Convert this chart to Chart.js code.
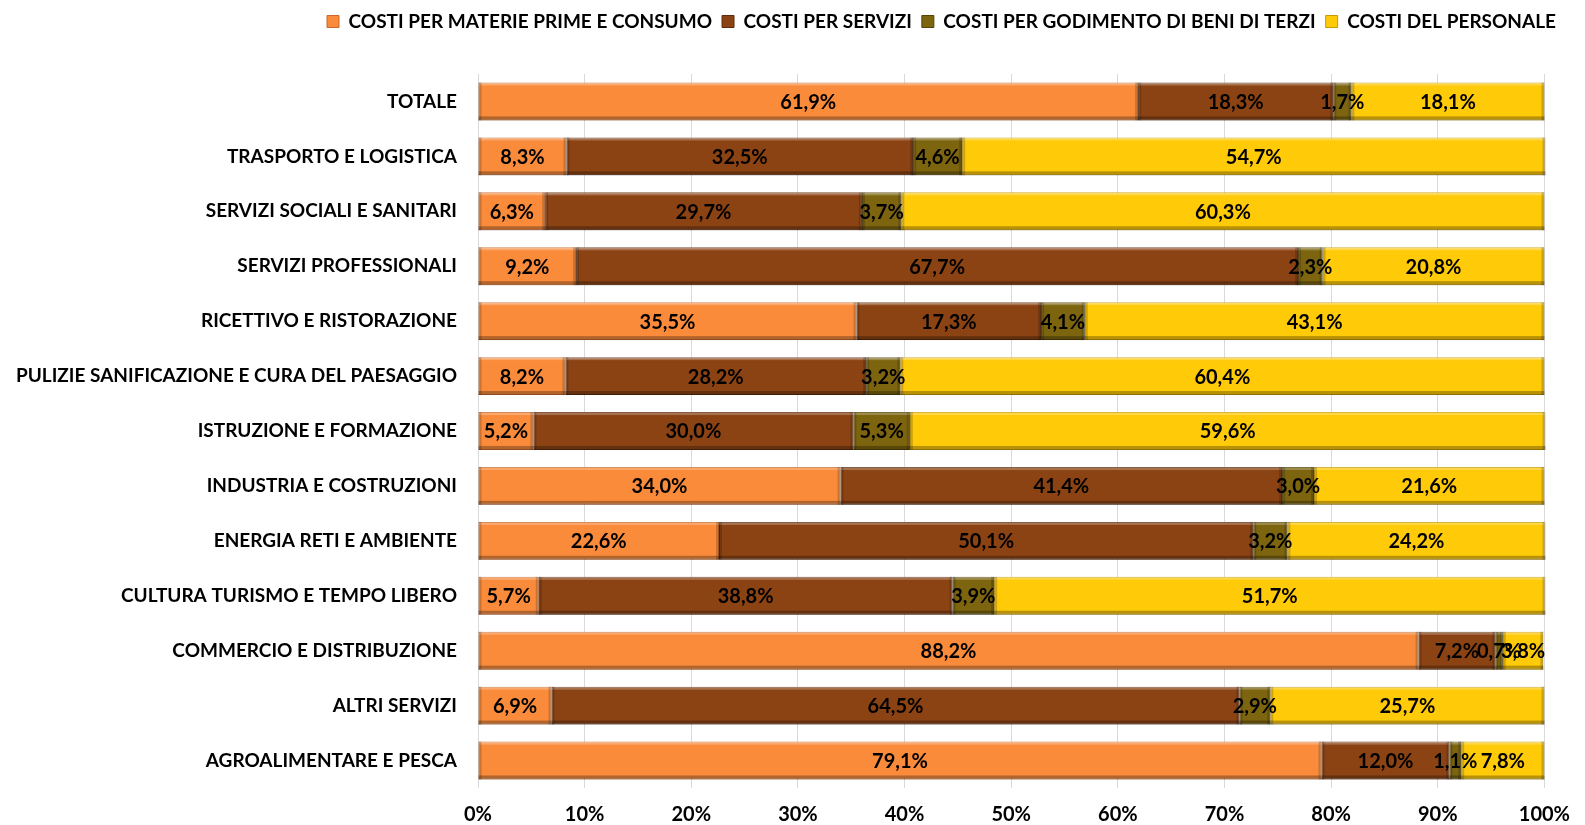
<!DOCTYPE html>
<html>
<head>
<meta charset="utf-8">
<script src="https://cdn.jsdelivr.net/npm/chart.js@4/dist/chart.umd.min.js"></script>
<style>
  html, body { margin: 0; padding: 0; background: #fff; overflow: hidden; }
  #wrap { width: 1585px; height: 825px; position: relative; }
  canvas { display: block; }
</style>
</head>
<body>
<div id="wrap"><canvas id="chart"></canvas></div>
<script>
const categories = [
  'TOTALE',
  'TRASPORTO E LOGISTICA',
  'SERVIZI SOCIALI E SANITARI',
  'SERVIZI PROFESSIONALI',
  'RICETTIVO E RISTORAZIONE',
  'PULIZIE SANIFICAZIONE E CURA DEL PAESAGGIO',
  'ISTRUZIONE E FORMAZIONE',
  'INDUSTRIA E COSTRUZIONI',
  'ENERGIA RETI E AMBIENTE',
  'CULTURA TURISMO E TEMPO LIBERO',
  'COMMERCIO E DISTRIBUZIONE',
  'ALTRI SERVIZI',
  'AGROALIMENTARE E PESCA'
];
const materiePrime = [61.9, 8.3, 6.3, 9.2, 35.5, 8.2, 5.2, 34.0, 22.6, 5.7, 88.2, 6.9, 79.1];
const servizi      = [18.3, 32.5, 29.7, 67.7, 17.3, 28.2, 30.0, 41.4, 50.1, 38.8, 7.2, 64.5, 12.0];
const godimento    = [1.7, 4.6, 3.7, 2.3, 4.1, 3.2, 5.3, 3.0, 3.2, 3.9, 0.7, 2.9, 1.1];
const personale    = [18.1, 54.7, 60.3, 20.8, 43.1, 60.4, 59.6, 21.6, 24.2, 51.7, 3.8, 25.7, 7.8];
const xTicks = [0, 10, 20, 30, 40, 50, 60, 70, 80, 90, 100];

const FONT = 'Lato, "Open Sans", sans-serif';

// bevel look + labels in the middle of each segment
const bevelLabels = {
  id: 'bevelLabels',
  afterDatasetsDraw(chart) {
    const ctx = chart.ctx;
    chart.data.datasets.forEach((ds, di) => {
      const meta = chart.getDatasetMeta(di);
      meta.data.forEach(bar => {
        const x0 = Math.min(bar.base, bar.x), x1 = Math.max(bar.base, bar.x);
        const y0 = bar.y - bar.height / 2, y1 = bar.y + bar.height / 2;
        const w = x1 - x0;
        const e = Math.min(3, w / 2);
        ctx.save();
        ctx.fillStyle = 'rgba(255,255,255,0.25)';
        ctx.fillRect(x0, y0, w, 3);
        ctx.fillStyle = 'rgba(0,0,0,0.28)';
        ctx.fillRect(x0, y1 - 4, w, 4);
        ctx.fillStyle = 'rgba(0,0,0,0.18)';
        ctx.fillRect(x0, y0, e, bar.height);
        ctx.fillRect(x1 - e, y0, e, bar.height);
        ctx.restore();
      });
    });
    ctx.save();
    ctx.font = 'bold 20px ' + FONT;
    ctx.fillStyle = '#000';
    ctx.textAlign = 'center';
    ctx.textBaseline = 'middle';
    chart.data.datasets.forEach((ds, di) => {
      const meta = chart.getDatasetMeta(di);
      meta.data.forEach((bar, i) => {
        const v = ds.data[i];
        const cx = (bar.base + bar.x) / 2;
        ctx.fillText(v.toFixed(1).replace('.', ',') + '%', cx, bar.y + 1);
      });
    });
    ctx.restore();
  }
};

// extra room under the legend, and legend pushed a bit to the right
const legendGap = {
  id: 'legendGap',
  beforeInit(chart) {
    const fit = chart.legend.fit;
    chart.legend.fit = function () {
      fit.bind(chart.legend)();
      this.height += 33;
    };
  },
  afterLayout(chart) {
    chart.legend.left += 10;
    chart.legend.right += 10;
  }
};

function ds(label, data, color, border) {
  return {
    label: label,
    data: data,
    backgroundColor: color,
    borderColor: border,
    borderWidth: 1,
    borderSkipped: false,
    barPercentage: 0.69,
    categoryPercentage: 1
  };
}

const ctx = document.getElementById('chart').getContext('2d');
new Chart(ctx, {
  type: 'bar',
  data: {
    labels: categories,
    datasets: [
      ds('COSTI PER MATERIE PRIME E CONSUMO', materiePrime, '#F98B3B', '#C8682A'),
      ds('COSTI PER SERVIZI', servizi, '#8C4314', '#5E2C0C'),
      ds('COSTI PER GODIMENTO DI BENI DI TERZI', godimento, '#7D640E', '#544306'),
      ds('COSTI DEL PERSONALE', personale, '#FFCA08', '#C89C00')
    ]
  },
  options: {
    indexAxis: 'y',
    responsive: true,
    maintainAspectRatio: false,
    animation: false,
    layout: { padding: { top: 2, right: 29, bottom: 0, left: 0 } },
    scales: {
      x: {
        stacked: true,
        min: 0,
        max: 100,
        afterBuildTicks(scale) { scale.ticks = xTicks.map(v => ({ value: v })); },
        afterFit(scale) { scale.height = 37; },
        grid: { color: '#D9D9D9', drawTicks: false },
        border: { display: false },
        ticks: {
          padding: 15,
          color: '#000',
          font: { family: FONT, size: 20, weight: 'bold' },
          callback: v => v + '%'
        }
      },
      y: {
        stacked: true,
        afterFit(scale) { scale.width = 478; },
        grid: { display: false, drawTicks: false },
        border: { display: false },
        ticks: {
          padding: 21,
          color: '#000',
          font: { family: FONT, size: 19, weight: 'bold' }
        }
      }
    },
    plugins: {
      legend: {
        position: 'top',
        align: 'end',
        labels: {
          boxWidth: 12,
          boxHeight: 12,
          padding: 10,
          color: '#000',
          font: { family: FONT, size: 19, weight: 'bold' }
        }
      },
      tooltip: { enabled: false }
    }
  },
  plugins: [legendGap, bevelLabels]
});
</script>
</body>
</html>
